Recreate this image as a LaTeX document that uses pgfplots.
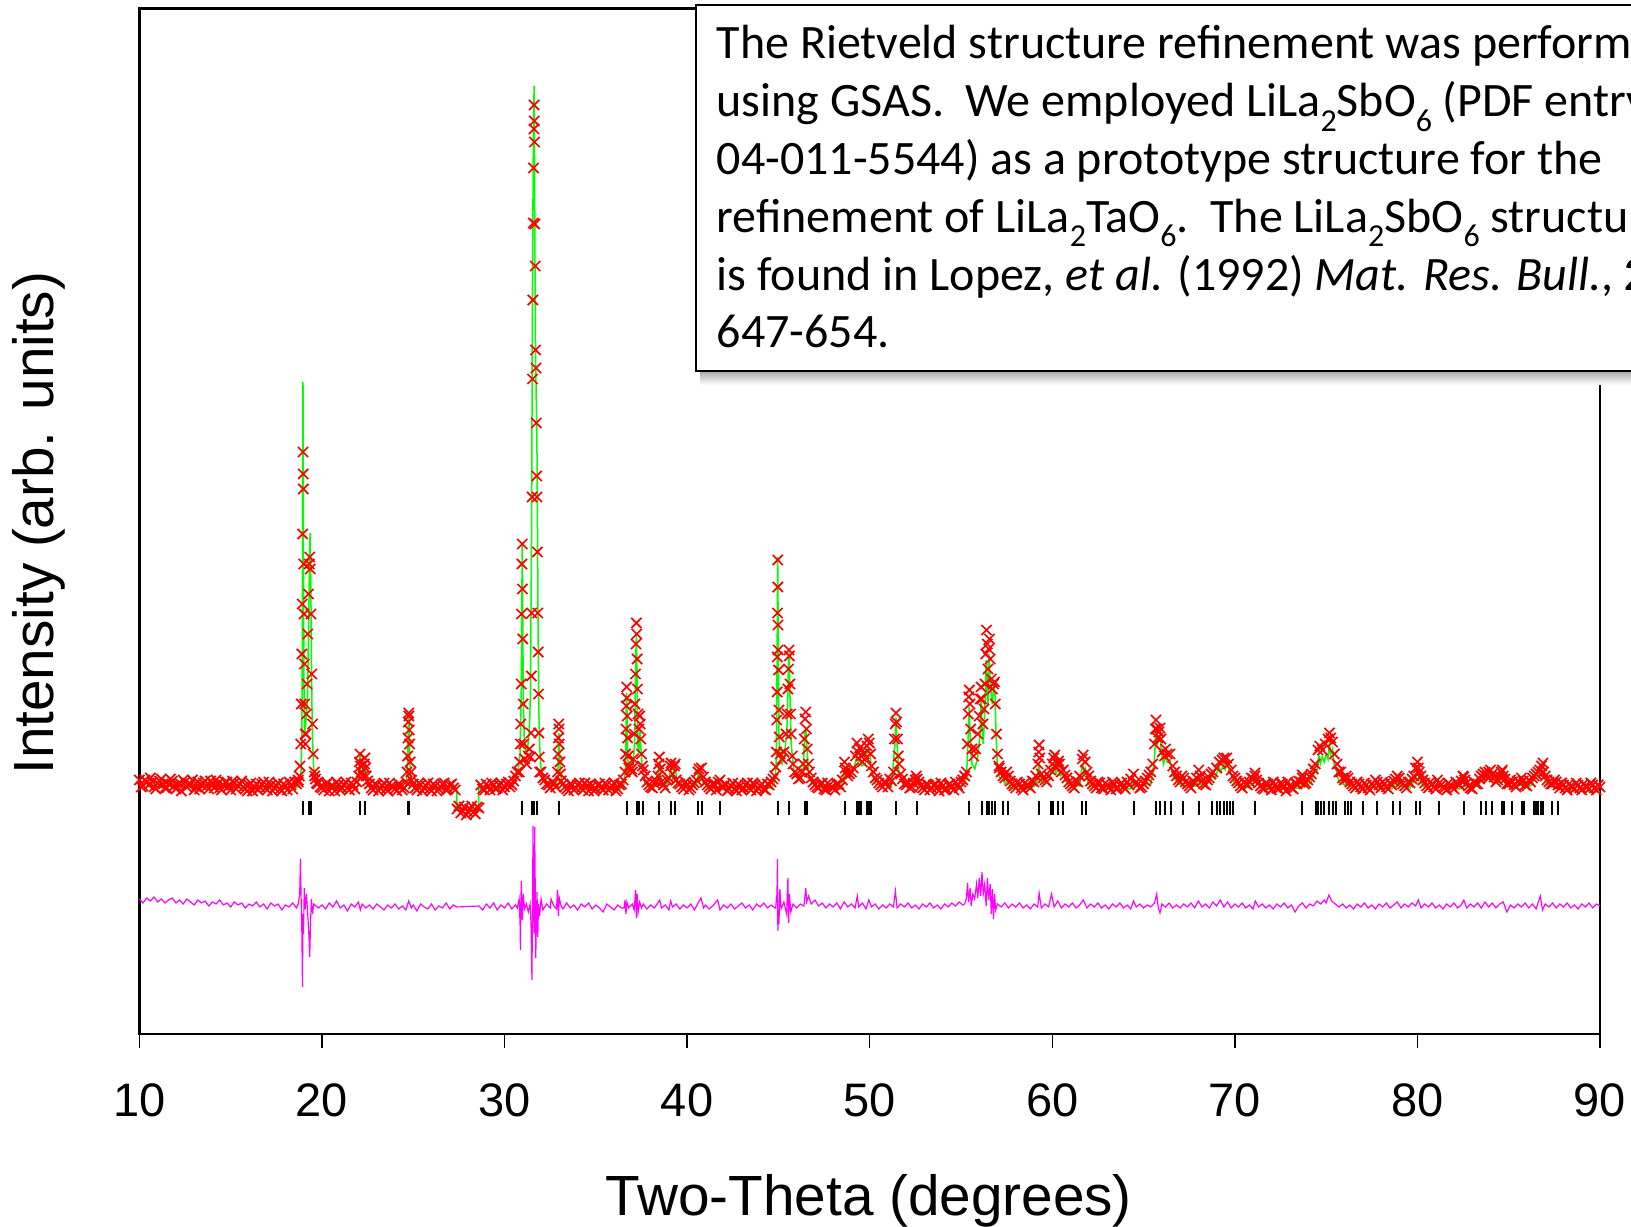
\documentclass[border=0pt]{standalone}
\usepackage{pgfplots}
\pgfplotsset{compat=1.18}
\usepackage{fontspec}
\setmainfont{Liberation Sans}
\newfontfamily\boxfont{Carlito}
\definecolor{obsred}{RGB}{255,0,0}
\definecolor{calcgreen}{RGB}{0,255,0}
\definecolor{diffmag}{RGB}{255,0,255}
\newcommand{\sub}[1]{\raisebox{-0.3em}{\fontsize{9.6}{10}\selectfont #1}}

\begin{document}
\begin{tikzpicture}
% 1 px of the reference = 0.3pt; y values are pixel heights above the axis floor
\begin{axis}[
  at={(41.82pt,57.9pt)}, anchor=south west,
  width=438.18pt, height=307.71pt, scale only axis,
  xmin=10, xmax=90, ymin=0, ymax=1025.7,
  xtick={10,20,...,90}, ytick=\empty,
  xtick pos=bottom, tick align=outside,
  major tick length=4.2pt,
  tick style={black, line width=0.45pt},
  axis line style={black, line width=0.8pt},
  clip=false,
  /pgf/number format/assume math mode=true,
  xticklabel style={font=\fontsize{14.1}{16}\selectfont, anchor=base, yshift=-20.7pt},
  xlabel={Two-Theta (degrees)},
  xlabel style={font=\fontsize{17}{20}\selectfont, at={(axis description cs:0.4995,-0.1765)}, anchor=base},
  ylabel={Intensity (arb. units)},
  ylabel style={font=\fontsize{17}{20}\selectfont, at={(axis description cs:-0.069,0.498)}, anchor=center},
  obs/.style={only marks, mark=x, obsred, mark size=2.15pt, mark options={line width=0.5pt}},
]
% observed, background band (two interleaved runs)
\addplot[obs] coordinates {
(10.0,254)(10.2,248)(10.4,252)(10.6,256)(10.8,247)(11.0,251)(11.2,255)(11.4,246)(11.6,250)(11.8,253)
(12.0,245)(12.2,251)(12.4,254)(12.6,247)(12.8,250)(13.0,244)(13.2,252)(13.4,249)(13.6,253)(13.8,245)
(14.0,250)(14.2,254)(14.4,246)(14.6,249)(14.8,252)(15.0,244)(15.2,251)(15.4,248)(15.6,253)(15.8,245)
(16.0,249)(16.2,243)(16.4,250)(16.6,247)(16.8,252)(17.0,244)(17.2,249)(17.4,246)(17.6,251)(17.8,243)
(18.0,248)(18.2,252)(18.4,245)(18.6,250)(19.6,258)(19.8,252)(20.0,246)(20.2,250)(20.4,243)(20.6,248)
(20.8,252)(21.0,244)(21.2,249)(21.4,246)(21.6,251)(21.8,245)(22.6,250)(22.8,244)(23.0,249)(23.2,246)
(23.4,251)(23.6,243)(23.8,248)(24.0,245)(24.2,250)(24.4,244)(24.6,252)(25.0,250)(25.2,244)(25.4,249)
(25.6,246)(25.8,251)(26.0,243)(26.2,248)(26.4,245)(26.6,250)(26.8,244)(27.0,249)(27.2,246)(27.4,225)
(27.6,221)(27.8,227)(28.0,222)(28.2,228)(28.4,220)(28.6,226)(28.8,245)(29.0,250)(29.2,244)(29.4,249)
(29.6,246)(29.8,251)(30.0,247)(30.2,252)(30.4,249)(32.0,262)(32.2,254)(32.4,249)(32.6,252)(32.8,247)
(33.2,250)(33.4,245)(33.6,250)(33.8,244)(34.0,249)(34.2,246)(34.4,251)(34.6,243)(34.8,248)(35.0,245)
(35.2,250)(35.4,244)(35.6,249)(35.8,246)(36.0,251)(36.2,245)(36.4,250)(36.8,266)(37.0,262)(37.6,264)
(37.8,252)(38.0,247)(38.2,251)(38.4,258)(38.6,252)(38.8,246)(39.0,256)(39.2,260)(39.4,254)(39.6,250)
(39.8,245)(40.0,249)(40.2,246)(40.4,251)(41.0,252)(41.2,247)(41.4,250)(41.6,244)(42.0,247)(42.2,243)
(42.4,248)(42.6,245)(42.8,250)(43.0,244)(43.2,249)(43.4,246)(43.6,251)(43.8,243)(44.0,248)(44.2,245)
(44.4,250)(44.6,252)(44.8,258)(45.8,270)(46.0,260)(46.2,256)(46.8,256)(47.0,249)(47.2,246)(47.4,251)
(47.6,244)(47.8,249)(48.0,246)(48.2,250)(48.4,247)(48.8,258)(49.0,262)(49.6,272)(49.8,276)(50.2,262)
(50.4,254)(50.6,249)(50.8,252)(51.0,247)(51.2,253)(51.6,270)(51.8,255)(52.0,249)(52.2,246)(52.4,251)
(52.6,255)(52.8,248)(53.0,244)(53.2,249)(53.4,246)(53.6,250)(53.8,243)(54.0,248)(54.2,245)(54.4,250)
(54.6,244)(54.8,249)(55.0,252)(55.2,258)(57.2,262)(57.4,256)(57.6,258)(57.8,250)(58.0,246)(58.2,250)
(58.4,244)(58.6,249)(58.8,246)(59.0,252)(59.4,260)(59.6,254)(59.8,258)(60.2,266)(60.6,264)(60.8,256)
(61.0,250)(61.2,246)(61.4,252)(62.0,258)(62.2,250)(62.4,246)(62.6,251)(62.8,245)(63.0,249)(63.2,244)
(63.4,250)(63.6,246)(63.8,251)(64.0,245)(64.2,249)(64.6,252)(64.8,246)(65.0,250)(65.2,256)(65.4,262)
(66.6,268)(66.8,258)(67.0,252)(67.2,256)(67.4,250)(67.6,246)(67.8,251)(68.2,253)(68.4,249)(68.6,256)
(69.8,264)(70.0,256)(70.2,251)(70.4,246)(70.6,250)(70.8,252)(71.0,255)(71.2,254)(71.4,248)(71.6,245)
(71.8,250)(72.0,244)(72.2,249)(72.4,245)(72.6,250)(72.8,243)(73.0,248)(73.2,245)(73.4,250)(73.6,252)
(73.8,250)(74.0,254)(74.2,260)(74.4,270)(75.6,270)(75.8,262)(76.0,254)(76.2,256)(76.4,250)(76.6,246)
(76.8,250)(77.0,245)(77.2,249)(77.4,244)(77.6,248)(77.8,252)(78.0,246)(78.2,250)(78.4,245)(78.6,249)
(78.8,255)(79.0,256)(79.2,250)(79.4,246)(79.6,251)(79.8,258)(80.2,258)(80.4,251)(80.6,246)(80.8,250)
(81.0,245)(81.2,251)(81.4,247)(81.6,244)(81.8,249)(82.0,245)(82.2,250)(82.4,253)(82.6,254)(82.8,248)
(83.0,245)(83.2,250)(83.4,255)(83.6,260)(83.8,258)(84.2,257)(84.4,254)(84.6,262)(84.8,255)(85.0,250)
(85.2,252)(85.4,247)(85.6,251)(85.8,253)(86.0,248)(86.2,252)(86.4,258)(86.6,262)(87.0,258)(87.2,252)
(87.4,250)(87.6,252)(87.8,246)(88.0,249)(88.2,244)(88.4,248)(88.6,245)(88.8,249)(89.0,244)(89.2,248)
(89.4,245)(89.6,249)(89.8,244)(90.0,247)};
\addplot[obs] coordinates {
(10.1,247)(10.3,254)(10.5,249)(10.7,252)(10.9,245)(11.1,253)(11.3,250)(11.5,246)(11.7,255)(11.9,248)
(12.1,250)(12.3,243)(12.5,252)(12.7,249)(12.9,254)(13.1,247)(13.3,245)(13.5,251)(13.7,248)(13.9,253)
(14.1,246)(14.3,250)(14.5,244)(14.7,252)(14.9,248)(15.1,253)(15.3,245)(15.5,250)(15.7,247)(15.9,243)
(16.1,251)(16.3,247)(16.5,244)(16.7,250)(16.9,246)(17.1,252)(17.3,243)(17.5,248)(17.7,245)(17.9,250)
(18.1,244)(18.3,249)(18.5,252)(18.7,254)(19.7,251)(19.9,247)(20.1,244)(20.3,251)(20.5,248)(20.7,243)
(20.9,249)(21.1,246)(21.3,252)(21.5,244)(21.7,249)(21.9,252)(22.5,253)(22.7,246)(22.9,250)(23.1,243)
(23.3,248)(23.5,245)(23.7,251)(23.9,247)(24.1,243)(24.3,249)(24.5,246)(24.9,254)(25.1,246)(25.3,251)
(25.5,243)(25.7,248)(25.9,245)(26.1,250)(26.3,243)(26.5,247)(26.7,251)(26.9,245)(27.1,250)(27.3,244)
(27.5,228)(27.7,223)(27.9,219)(28.1,225)(28.3,222)(28.5,227)(28.7,249)(28.9,244)(29.1,248)(29.3,251)
(29.5,245)(29.7,249)(29.9,244)(30.1,250)(30.3,247)(30.5,253)(32.1,256)(32.3,250)(32.5,246)(32.7,251)
(33.1,253)(33.3,247)(33.5,243)(33.7,249)(33.9,246)(34.1,251)(34.3,244)(34.5,248)(34.7,250)(34.9,243)
(35.1,249)(35.3,246)(35.5,251)(35.7,244)(35.9,248)(36.1,243)(36.3,249)(36.5,254)(36.9,264)(37.7,258)
(37.9,249)(38.1,246)(38.3,253)(38.7,249)(38.9,254)(39.5,251)(39.7,247)(39.9,252)(40.1,244)(40.3,249)
(40.5,254)(40.9,257)(41.1,249)(41.3,245)(41.5,250)(41.7,252)(41.9,247)(42.1,250)(42.3,245)(42.5,251)
(42.7,243)(42.9,248)(43.1,246)(43.3,251)(43.5,244)(43.7,249)(43.9,246)(44.1,250)(44.3,244)(44.5,249)
(44.7,255)(45.9,262)(46.1,255)(46.3,262)(46.7,262)(46.9,252)(47.1,247)(47.3,250)(47.5,245)(47.7,251)
(47.9,247)(48.1,244)(48.3,250)(48.5,254)(48.7,262)(48.9,260)(49.1,266)(49.7,280)(50.1,268)(50.3,256)
(50.5,251)(50.7,247)(50.9,251)(51.1,255)(51.3,262)(51.7,260)(51.9,250)(52.1,252)(52.3,247)(52.5,254)
(52.7,252)(52.9,246)(53.1,250)(53.3,244)(53.5,249)(53.7,246)(53.9,251)(54.1,244)(54.3,249)(54.5,247)
(54.7,252)(54.9,246)(55.1,254)(57.1,266)(57.3,258)(57.5,262)(57.7,253)(57.9,248)(58.1,252)(58.3,246)
(58.5,251)(58.7,248)(58.9,253)(59.1,258)(59.5,256)(59.7,252)(59.9,264)(60.3,270)(60.5,262)(60.7,259)
(60.9,252)(61.1,248)(61.3,253)(61.5,258)(61.9,262)(62.1,253)(62.3,248)(62.5,252)(62.7,246)(62.9,251)
(63.1,247)(63.3,252)(63.5,245)(63.7,249)(63.9,247)(64.1,252)(64.3,255)(64.7,250)(64.9,247)(65.1,253)
(65.3,259)(65.5,270)(66.7,262)(66.9,254)(67.1,258)(67.3,252)(67.5,248)(67.7,253)(67.9,256)(68.1,258)
(68.3,250)(68.5,254)(68.7,260)(69.9,258)(70.1,253)(70.3,248)(70.5,252)(70.7,249)(70.9,256)(71.1,258)
(71.3,251)(71.5,246)(71.7,251)(71.9,247)(72.1,252)(72.3,246)(72.5,251)(72.7,247)(72.9,252)(73.1,246)
(73.3,251)(73.5,253)(73.7,256)(73.9,251)(74.1,257)(74.3,265)(75.7,262)(75.9,256)(76.1,258)(76.3,252)
(76.5,248)(76.7,252)(76.9,247)(77.1,251)(77.3,246)(77.5,250)(77.7,254)(77.9,249)(78.1,252)(78.3,247)
(78.5,251)(78.7,253)(78.9,258)(79.1,252)(79.3,248)(79.5,252)(79.7,255)(79.9,266)(80.1,262)(80.3,254)
(80.5,248)(80.7,252)(80.9,247)(81.1,254)(81.3,249)(81.5,246)(81.7,251)(81.9,247)(82.1,252)(82.3,249)
(82.5,258)(82.7,251)(82.9,246)(83.1,252)(83.3,250)(83.5,258)(83.7,262)(83.9,256)(84.1,260)(84.3,252)
(84.5,258)(84.7,258)(84.9,250)(85.1,254)(85.3,249)(85.5,253)(85.7,256)(85.9,249)(86.1,254)(86.3,256)
(86.5,260)(86.7,264)(86.9,262)(87.1,254)(87.3,250)(87.5,254)(87.7,249)(87.9,251)(88.1,246)(88.3,250)
(88.5,247)(88.7,251)(88.9,246)(89.1,250)(89.3,247)(89.5,251)(89.7,246)(89.9,249)};
% observed, peaks
\addplot[obs] coordinates {
(18.70,252)(18.76,258)(18.80,268)(18.84,290)(18.87,330)(18.90,380)(18.92,430)(18.94,500)(18.96,582)(18.97,560)
(18.98,545)(19.00,470)(19.02,420)(19.04,370)(19.06,330)(19.08,300)(19.10,290)(19.12,300)(19.15,320)(19.18,350)
(19.22,400)(19.26,440)(19.30,470)(19.33,477)(19.36,465)(19.40,420)(19.44,360)(19.48,310)(19.52,280)(19.58,262)
(19.65,255)(19.75,250)
(22.02,258)(22.05,272)(22.08,280)(22.11,268)(22.15,262)(22.25,258)(22.32,270)(22.35,276)(22.38,266)(22.42,258)
(24.66,262)(24.69,278)(24.71,296)(24.73,312)(24.75,321)(24.76,318)(24.78,304)(24.80,290)(24.83,272)(24.88,262)
(30.6,258)(30.7,262)(30.80,262)(30.84,272)(30.87,290)(30.89,310)(30.91,350)(30.93,420)(30.95,470)(30.97,490)
(30.98,445)(31.00,395)(31.02,330)(31.05,290)(31.10,275)(31.20,270)(31.30,278)(31.36,285)
(31.42,277)(31.45,301)(31.47,358)(31.49,421)(31.51,537)(31.53,655)(31.55,734)(31.57,811)(31.59,866)(31.61,905)
(31.62,929)(31.63,913)(31.64,892)(31.66,810)(31.68,768)(31.70,684)(31.72,666)(31.74,611)(31.76,558)(31.78,537)
(31.80,482)(31.82,421)(31.84,382)(31.86,340)(31.88,301)(31.90,277)(31.93,262)
(32.90,262)(32.93,280)(32.95,296)(32.97,310)(32.98,305)(33.00,290)(33.03,272)(33.06,260)
(36.60,262)(36.63,280)(36.65,305)(36.67,328)(36.69,347)(36.70,336)(36.72,318)(36.74,296)(36.77,278)(36.82,268)
(36.95,265)(37.05,275)(37.10,300)(37.14,330)(37.17,360)(37.20,390)(37.22,411)(37.24,400)(37.26,375)(37.28,345)
(37.31,320)(37.36,305)(37.40,318)(37.43,310)(37.46,295)(37.50,280)(37.55,268)
(38.44,270)(38.48,277)(38.52,265)(39.08,268)(39.12,271)(39.30,268)(39.35,270)(40.60,262)(40.65,265)(40.78,266)
(41.80,254)
(44.86,267)(44.89,282)(44.91,314)(44.93,342)(44.94,377)(44.95,421)(44.96,474)(44.97,447)(44.98,409)(44.99,384)
(45.01,364)(45.03,324)(45.05,297)(45.10,280)(45.20,275)(45.30,282)(45.42,300)(45.48,320)(45.52,345)(45.55,365)
(45.58,384)(45.60,378)(45.63,350)(45.66,320)(45.70,300)(45.76,278)(46.35,270)(46.42,295)(46.46,315)(46.50,322)
(46.54,305)(46.58,285)(46.65,270)
(48.62,272)(48.66,266)(49.22,278)(49.30,291)(49.36,282)(49.45,286)(49.52,278)(49.85,288)(49.92,295)(49.98,291)
(50.05,280)(51.36,295)(51.40,310)(51.44,321)(51.47,312)(51.52,295)(51.56,278)(52.55,258)
(55.30,262)(55.35,290)(55.40,320)(55.43,337)(55.46,344)(55.49,330)(55.53,305)(55.60,285)(55.70,278)(55.80,285)
(55.92,300)(56.00,318)(56.06,335)(56.10,347)(56.14,335)(56.20,310)(56.26,325)(56.32,350)(56.36,380)(56.40,404)
(56.44,390)(56.48,365)(56.52,385)(56.56,395)(56.60,375)(56.66,355)(56.72,345)(56.78,350)(56.84,352)(56.88,330)
(56.94,300)(57.00,280)(57.08,268)
(59.22,270)(59.26,282)(59.28,289)(59.31,276)(60.00,270)(60.08,276)(60.14,279)(60.34,273)(60.40,270)(61.64,275)
(61.70,279)(61.80,272)(64.45,260)(65.60,290)(65.65,305)(65.68,314)(65.72,305)(65.78,296)(65.84,302)(65.90,306)
(65.95,295)(66.02,282)(66.15,278)(66.20,285)(66.30,280)(66.45,280)(68.02,264)(68.80,262)(69.00,266)(69.15,272)
(69.30,274)(69.40,276)(69.55,276)(69.65,270)(71.10,261)(73.70,259)(74.55,284)(74.65,288)(74.80,284)(74.95,290)
(75.10,295)(75.18,301)(75.25,296)(75.35,292)(75.45,280)(80.00,272)(80.05,266)(82.54,257)(83.90,262)(84.00,264)
(84.65,264)(86.80,268)(86.88,271)};
% calculated
\addplot[calcgreen, line width=0.45pt] coordinates {
(10,248)(12,247.5)(14,247)(16,246.5)(18,246)(18.6,246)(18.75,250)(18.85,262)(18.90,300)(18.93,420)
(18.95,600)(18.96,652)(18.97,600)(18.99,450)(19.02,330)(19.05,300)(19.10,309)(19.20,330)(19.28,420)(19.32,480)
(19.35,501)(19.38,470)(19.42,380)(19.47,300)(19.55,265)(19.70,250)(19.90,247)(21.9,246)(22.0,252)(22.06,275)
(22.08,282)(22.12,262)(22.2,256)(22.3,262)(22.35,272)(22.4,258)(22.5,248)(22.7,245)(24.5,245)(24.62,250)
(24.68,265)(24.72,300)(24.75,321)(24.78,305)(24.82,270)(24.9,252)(25.1,245)(27.38,245)(27.39,224)(28.57,224)
(28.58,245)(30.0,246)(30.4,250)(30.6,255)(30.75,265)(30.85,280)(30.92,350)(30.95,440)(30.97,492)(30.99,440)
(31.02,350)(31.07,300)(31.15,282)(31.25,285)(31.35,300)(31.42,340)(31.48,500)(31.53,750)(31.58,900)(31.62,948)
(31.64,880)(31.67,760)(31.70,680)(31.74,630)(31.77,600)(31.80,520)(31.84,400)(31.88,320)(31.93,285)(32.0,265)
(32.15,252)(32.4,247)(32.8,248)(32.92,260)(32.96,290)(32.98,301)(33.0,290)(33.05,262)(33.15,250)(33.4,246)
(36.3,244)(36.55,250)(36.63,270)(36.67,330)(36.69,341)(36.71,320)(36.75,275)(36.85,258)(37.0,262)(37.12,290)
(37.18,370)(37.22,399)(37.26,360)(37.30,290)(37.35,280)(37.40,300)(37.43,304)(37.47,285)(37.55,265)(37.7,250)
(38.0,246)(38.35,248)(38.45,268)(38.5,271)(38.55,258)(38.7,248)(39.0,252)(39.08,264)(39.12,266)(39.2,256)
(39.3,264)(39.35,266)(39.45,252)(39.8,246)(40.5,248)(40.6,262)(40.66,258)(40.75,264)(40.85,252)(41.2,245)
(41.75,246)(41.8,250)(41.9,246)(44.6,246)(44.8,252)(44.88,270)(44.93,380)(44.96,477)(44.99,400)(45.03,300)
(45.1,275)(45.2,270)(45.35,280)(45.48,310)(45.55,370)(45.59,382)(45.63,340)(45.7,290)(45.85,262)(46.1,255)
(46.35,265)(46.45,300)(46.5,307)(46.55,290)(46.65,262)(46.9,250)(47.5,245)(48.4,245)(48.6,260)(48.64,266)
(48.7,256)(49.0,258)(49.2,270)(49.3,279)(49.38,272)(49.45,277)(49.55,268)(49.75,270)(49.88,284)(49.95,286)
(50.02,280)(50.1,262)(50.3,250)(51.2,248)(51.38,290)(51.44,316)(51.5,290)(51.6,262)(51.8,250)(52.4,248)
(52.57,251)(52.7,248)(53.2,245)(55.0,246)(55.3,255)(55.4,300)(55.45,327)(55.5,300)(55.6,270)(55.75,265)
(55.9,275)(56.05,300)(56.1,334)(56.15,310)(56.22,290)(56.3,320)(56.38,374)(56.43,340)(56.48,330)(56.53,380)
(56.58,360)(56.65,340)(56.72,330)(56.8,351)(56.86,340)(56.92,300)(57.0,265)(57.15,255)(57.28,258)(57.4,250)
(57.55,254)(57.7,246)(58.8,245)(59.15,250)(59.25,268)(59.28,272)(59.32,258)(59.5,250)(59.85,255)(59.95,266)
(60.02,262)(60.1,269)(60.2,260)(60.35,266)(60.45,258)(60.6,260)(60.8,250)(61.5,248)(61.62,266)(61.68,269)
(61.75,260)(61.82,265)(61.95,250)(62.5,245)(64.3,245)(64.42,255)(64.5,248)(65.4,250)(65.6,275)(65.68,306)
(65.75,290)(65.82,295)(65.9,299)(65.98,280)(66.1,270)(66.2,280)(66.3,272)(66.45,274)(66.6,258)(66.9,250)
(67.1,249)(67.16,251)(67.25,247)(67.9,248)(68.02,255)(68.1,249)(68.6,252)(68.75,258)(68.9,255)(69.03,262)
(69.15,266)(69.25,262)(69.38,271)(69.48,265)(69.58,271)(69.7,263)(69.85,258)(70.0,250)(70.5,245)(71.0,250)
(71.12,257)(71.25,250)(71.6,245)(73.5,246)(73.7,255)(73.8,247)(74.2,252)(74.4,265)(74.5,262)(74.6,279)
(74.68,270)(74.78,277)(74.9,272)(75.0,280)(75.1,275)(75.18,291)(75.25,280)(75.35,285)(75.45,268)(75.55,264)
(75.7,252)(76.0,249)(76.1,251)(76.3,248)(76.5,245)(77.8,247)(78.6,245)(78.9,252)(79.1,248)(79.6,246)
(79.9,256)(80.0,262)(80.1,256)(80.3,248)(81.2,247)(82.3,245)(82.5,254)(82.6,248)(83.4,250)(83.5,255)
(83.7,252)(83.9,257)(84.1,251)(84.5,252)(84.65,257)(84.8,250)(85.2,248)(85.7,249)(86.2,248)(86.4,255)
(86.6,258)(86.8,260)(86.88,264)(86.95,255)(87.2,248)(87.5,247)(88,243)(90,242)};
% reflection positions
\addplot[only marks, mark=|, black, mark size=2.1pt, mark options={line width=0.6pt}] coordinates {
(18.96,226)(19.29,226)(19.38,226)(22.08,226)(22.35,226)(24.73,226)(24.78,226)(30.97,226)(31.52,226)(31.63,226)
(31.76,226)(32.98,226)(36.69,226)(37.23,226)(37.38,226)(37.56,226)(38.47,226)(39.10,226)(39.33,226)(40.61,226)
(40.79,226)(41.80,226)(44.96,226)(45.59,226)(46.45,226)(46.54,226)(48.64,226)(49.28,226)(49.42,226)(49.55,226)
(49.86,226)(49.97,226)(50.05,226)(51.44,226)(52.57,226)(55.45,226)(56.13,226)(56.40,226)(56.54,226)(56.68,226)
(56.86,226)(57.28,226)(57.55,226)(59.27,226)(59.93,226)(60.05,226)(60.32,226)(60.60,226)(61.65,226)(61.82,226)
(64.45,226)(65.68,226)(65.90,226)(66.19,226)(66.49,226)(67.16,226)(68.02,226)(68.75,226)(69.03,226)(69.21,226)
(69.38,226)(69.56,226)(69.74,226)(69.91,226)(71.12,226)(73.70,226)(74.43,226)(74.58,226)(74.74,226)(74.87,226)
(75.16,226)(75.36,226)(75.55,226)(76.04,226)(76.19,226)(76.37,226)(77.03,226)(77.80,226)(78.66,226)(79.06,226)
(79.94,226)(80.16,226)(81.19,226)(82.54,226)(83.47,226)(83.73,226)(84.06,226)(84.61,226)(84.74,226)(85.19,226)
(85.71,226)(85.84,226)(86.37,226)(86.51,226)(86.61,226)(86.75,226)(86.88,226)(87.39,226)(87.70,226)};
% difference
\addplot[diffmag, line width=0.35pt] coordinates {
(10.0,135)(10.2,131)(10.4,136)(10.6,133)(10.8,137)(11.0,132)(11.2,135)(11.4,131)(11.6,134)(11.8,136)
(12.0,131)(12.2,134)(12.4,130)(12.6,135)(12.8,132)(13.0,129)(13.2,134)(13.4,131)(13.6,133)(13.8,128)
(14.0,132)(14.2,130)(14.4,134)(14.6,129)(14.8,131)(15.0,127)(15.2,132)(15.4,129)(15.6,131)(15.8,126)
(16.0,130)(16.2,128)(16.4,132)(16.6,127)(16.8,130)(17.0,125)(17.2,131)(17.4,128)(17.6,130)(17.8,124)
(18.0,129)(18.2,127)(18.4,131)(18.6,126)
(18.70,130)(18.78,140)(18.82,175)(18.86,135)(18.90,100)(18.93,47)(18.96,120)(18.99,100)(19.03,146)(19.08,125)
(19.15,140)(19.22,120)(19.28,100)(19.33,77)(19.37,110)(19.42,135)(19.48,120)(19.55,130)
(19.8,126)(20.0,129)(20.2,125)(20.4,131)(20.6,127)(20.8,133)(21.0,126)(21.2,129)(21.4,123)(21.6,130)
(21.8,127)(22.0,132)(22.1,124)(22.2,130)(22.4,126)(22.6,129)(22.8,125)(23.0,130)(23.2,127)(23.4,124)
(23.6,129)(23.8,126)(24.0,130)(24.2,125)(24.4,128)(24.6,124)(24.75,133)(24.9,126)(25.0,129)(25.2,123)
(25.4,130)(25.6,127)(25.8,125)(26.0,130)(26.2,124)(26.4,128)(26.6,126)(26.8,131)(27.0,125)(27.2,129)
(27.38,127)(28.6,128)(28.8,124)(29.0,130)(29.2,126)(29.4,131)(29.6,124)(29.8,129)(30.0,126)(30.2,131)
(30.4,125)(30.6,129)
(30.70,126)(30.80,135)(30.85,110)(30.87,84)(30.89,130)(30.92,153)(30.95,120)(30.98,114)(31.02,140)(31.10,125)
(31.2,130)(31.3,122)(31.40,130)(31.45,110)(31.50,54)(31.53,120)(31.56,208)(31.59,130)(31.62,100)(31.65,207)
(31.68,150)(31.71,76)(31.75,120)(31.78,142)(31.82,97)(31.86,130)(31.92,118)(32.0,135)(32.1,124)(32.3,130)
(32.5,126)(32.55,135)(32.7,128)(32.85,125)(32.9,144)(32.95,118)(33.0,136)(33.1,128)
(33.2,125)(33.4,131)(33.6,126)(33.8,129)(34.0,124)(34.2,130)(34.4,127)(34.6,131)(34.8,125)(35.0,129)
(35.2,126)(35.4,122)(35.6,130)(35.8,127)(36.0,124)(36.2,129)(36.4,126)
(36.55,126)(36.60,134)(36.65,120)(36.70,132)(36.8,126)(37.0,130)(37.1,124)(37.18,144)(37.22,116)(37.26,140)
(37.32,122)(37.4,132)(37.5,126)(37.6,130)
(37.8,125)(38.0,129)(38.2,126)(38.4,131)(38.5,134)(38.6,126)(38.8,129)(39.0,124)(39.1,133)(39.2,127)
(39.4,130)(39.6,125)(39.8,129)(40.0,126)(40.2,130)(40.4,124)(40.6,131)(40.76,136)(40.9,126)(41.0,129)
(41.2,125)(41.4,128)(41.67,134)(41.8,124)(42.0,129)(42.2,126)(42.4,130)(42.6,125)(42.8,128)(43.0,131)
(43.2,126)(43.4,129)(43.6,124)(43.8,130)(44.0,127)(44.2,131)(44.4,126)(44.6,129)(44.8,126)
(44.85,126)(44.92,140)(44.95,175)(44.97,103)(45.00,120)(45.03,110)(45.08,145)(45.15,125)(45.3,132)(45.45,120)
(45.52,156)(45.56,111)(45.60,140)(45.68,122)(45.8,130)(46.0,126)(46.2,130)(46.4,128)(46.5,146)(46.55,132)
(46.65,138)(46.8,130)(47.0,134)
(47.2,128)(47.4,131)(47.6,126)(47.8,130)(48.0,127)(48.2,131)(48.4,125)(48.6,132)(48.8,127)(49.0,130)
(49.2,126)(49.32,138)(49.4,127)(49.6,131)(49.8,125)(49.95,134)(50.1,127)(50.3,130)(50.5,125)(50.7,129)
(50.9,126)(51.1,130)(51.3,127)(51.41,143)(51.5,126)(51.7,130)(51.9,127)(52.1,131)(52.3,126)(52.5,129)
(52.7,125)(52.9,130)(53.1,127)(53.3,131)(53.5,126)(53.7,129)(53.9,125)(54.1,130)(54.3,127)(54.5,131)
(54.7,128)(54.9,132)(55.1,129)
(55.2,130)(55.3,136)(55.36,151)(55.42,132)(55.5,146)(55.56,128)(55.65,140)(55.75,135)(55.85,150)(55.92,136)
(56.0,156)(56.08,138)(56.15,162)(56.22,140)(56.3,150)(56.38,128)(56.45,156)(56.52,134)(56.6,150)(56.66,120)
(56.72,145)(56.78,115)(56.84,140)(56.9,124)(57.0,130)
(57.2,127)(57.4,131)(57.6,126)(57.8,130)(58.0,127)(58.2,131)(58.4,126)(58.6,129)(58.8,125)(59.0,130)
(59.2,127)(59.28,141)(59.4,126)(59.6,130)(59.8,127)(59.96,140)(60.1,127)(60.3,133)(60.5,126)(60.7,130)
(60.9,127)(61.1,131)(61.3,126)(61.5,129)(61.7,134)(61.9,126)(62.1,130)(62.3,127)(62.5,131)(62.7,126)
(62.9,129)(63.1,125)(63.3,130)(63.5,127)(63.7,131)(63.9,126)(64.1,129)(64.3,125)(64.45,133)(64.6,127)
(64.8,130)(65.0,126)(65.2,129)(65.4,127)(65.6,131)(65.72,140)(65.8,127)(65.9,121)(66.0,130)(66.2,127)
(66.4,131)(66.6,126)(66.8,129)(67.0,126)(67.2,130)(67.4,127)(67.6,131)(67.8,126)(68.0,133)(68.2,127)
(68.4,130)(68.6,126)(68.8,132)(69.0,128)(69.2,134)(69.4,127)(69.6,132)(69.8,126)(70.0,130)(70.2,127)
(70.4,131)(70.6,126)(70.8,129)(71.0,125)(71.12,133)(71.3,127)(71.5,130)(71.7,126)(71.9,129)(72.1,125)
(72.3,130)(72.5,127)(72.7,131)(72.9,126)(73.1,129)(73.3,122)(73.5,128)(73.7,131)(73.9,126)(74.1,130)
(74.3,128)(74.5,133)(74.7,130)(74.9,134)(75.0,131)(75.15,139)(75.3,133)(75.5,130)(75.7,127)(75.9,130)
(76.1,126)(76.3,129)(76.5,125)(76.7,130)(76.9,127)(77.1,131)(77.3,126)(77.5,129)(77.7,125)(77.9,130)
(78.1,127)(78.3,131)(78.5,126)(78.7,129)(78.9,132)(79.1,126)(79.3,130)(79.5,127)(79.7,131)(79.9,128)
(80.05,134)(80.2,126)(80.4,130)(80.6,127)(80.8,131)(81.0,126)(81.2,129)(81.4,125)(81.6,130)(81.8,127)
(82.0,131)(82.2,126)(82.4,129)(82.54,134)(82.7,126)(82.9,130)(83.1,127)(83.3,131)(83.5,126)(83.7,132)
(83.9,127)(84.1,131)(84.3,126)(84.5,130)(84.7,132)(84.9,122)(85.1,129)(85.3,126)(85.5,130)(85.7,127)
(85.9,131)(86.1,126)(86.3,130)(86.5,125)(86.73,138)(86.85,124)(87.0,130)(87.2,127)(87.4,131)(87.6,126)
(87.8,130)(88.0,127)(88.2,131)(88.4,126)(88.6,129)(88.8,125)(89.0,130)(89.2,127)(89.4,131)(89.6,126)
(89.8,130)(90.0,128)};
\end{axis}
% note box (runs off the right edge of the figure)
\shade[top color=gray!65, bottom color=white] (210pt,252.6pt) rectangle (530pt,256.65pt);
\draw[line width=0.6pt, fill=white] (208.8pt,256.65pt) rectangle (530pt,366.54pt);
\begin{scope}[every node/.style={anchor=base west, inner sep=0pt, font=\boxfont\fontsize{14.4}{17.34}\selectfont}]
\node at (214.8pt,350.4pt) {The Rietveld structure refinement was performed};
\node at (214.8pt,333.06pt) {using GSAS.\ \ We employed LiLa\sub{2}SbO\sub{6} (PDF entry};
\node at (214.8pt,315.72pt) {04-011-5544) as a prototype structure for the};
\node at (214.8pt,298.38pt) {refinement of LiLa\sub{2}TaO\sub{6}.\ \ The LiLa\sub{2}SbO\sub{6} structure};
\node at (214.8pt,281.04pt) {is found in Lopez, \textit{et al.} (1992) \textit{Mat. Res. Bull.}, \textbf{27},};
\node at (214.8pt,263.7pt) {647-654.};
\end{scope}
\pgfresetboundingbox
\useasboundingbox (0,0) rectangle (489.3pt,368.1pt);
\end{tikzpicture}
\end{document}
